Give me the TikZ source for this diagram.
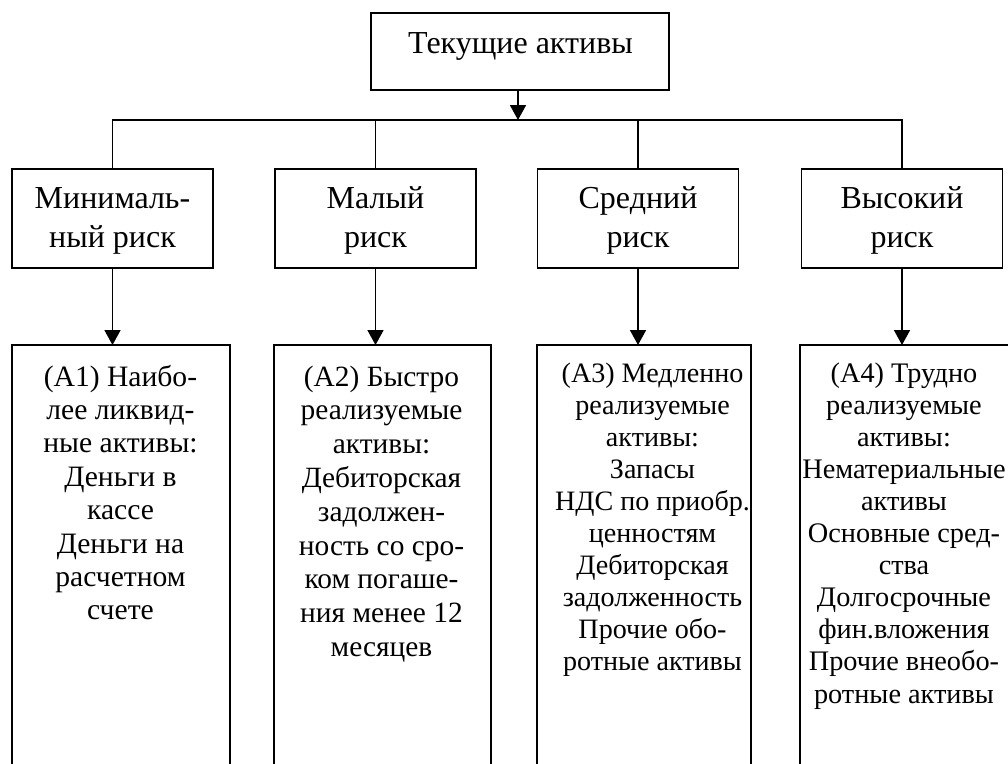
\documentclass[tikz,border=0pt]{standalone}
\usepackage{fontspec}
\setmainfont{Liberation Serif}
\usetikzlibrary{arrows.meta}
\newcommand\cellbox[3]{\parbox[t]{260pt}{\centering\fontsize{#1}{#2}\selectfont #3}}
\begin{document}
\begin{tikzpicture}[x=1pt,y=-1pt,
  frame/.style={draw, line width=1.7pt, inner sep=0pt, outer sep=0pt},
  mid/.style={frame, minimum width=201pt, minimum height=99pt},
  low/.style={frame, minimum height=455pt},
  txt/.style={inner sep=0pt, outer sep=0pt, anchor=base},
  conn/.style={line width=1.7pt},
  arr/.style={line width=1.7pt, -{Triangle[width=16pt,length=15pt]}}]
\useasboundingbox (0,0) rectangle (1008,763);
\clip (0,0) rectangle (1008,763);
% top
\node[frame, minimum width=298pt, minimum height=77pt] (top) at (520,51.5) {};
\node[txt, font=\fontsize{32}{38}\selectfont] (topt) at (520.5,53) {Текущие активы};
% middle boxes
\node[mid] (m1) at (112.5,218.5) {};
\node[mid] (m2) at (375.5,218.5) {};
\node[mid] (m3) at (638,218.5) {};
\node[mid] (m4) at (902,218.5) {};
\node[txt] (m1t) at (112.5,208) {\cellbox{32}{39}{Минималь-\\ный риск}};
\node[txt] (m2t) at (375.5,208) {\cellbox{32}{39}{Малый\\риск}};
\node[txt] (m3t) at (638,208) {\cellbox{32}{39}{Средний\\риск}};
\node[txt] (m4t) at (902,208) {\cellbox{32}{39}{Высокий\\риск}};
% lower boxes
\node[low, minimum width=218pt] (b1) at (121,572.5) {};
\node[low, minimum width=217pt] (b2) at (382.5,572.5) {};
\node[low, minimum width=214pt] (b3) at (644,572.5) {};
\node[low, minimum width=209pt] (b4) at (904.5,572.5) {};
\node[txt] (b1t) at (120.5,386) {\cellbox{29.6}{33.4}{(А1) Наибо-\\лее ликвид-\\ные активы:\\Деньги в\\кассе\\Деньги на\\расчетном\\счете}};
\node[txt] (b2t) at (381.5,386) {\cellbox{29.4}{33.8}{(А2) Быстро\\реализуемые\\активы:\\Дебиторская\\задолжен-\\ность со сро-\\ком погаше-\\ния менее 12\\месяцев}};
\node[txt] (b3t) at (652.5,382) {\cellbox{28.1}{32}{(А3) Медленно\\реализуемые\\активы:\\Запасы\\НДС по приобр.\hspace*{18pt}\\ценностям\hspace*{18pt}\\Дебиторская\\задолженность\\Прочие обо-\\ротные активы}};
\node[txt] (b4t) at (904,382) {\cellbox{28.3}{32.1}{(А4) Трудно\\реализуемые\\активы:\\Нематериальные\\активы\\Основные сред-\\ства\\Долгосрочные\\фин.вложения\\Прочие внеобо-\\ротные активы}};
% connectors
\coordinate (j) at (518,120);
\draw[arr] (top.south -| j) -- (j);
\draw[conn] (m1.north) -- (m1.north |- j) -- (m4.north |- j) -- (m4.north);
\draw[conn] (m2.north) -- (m2.north |- j);
\draw[conn] (m3.north) -- (m3.north |- j);
\draw[arr] (m1.south) -- (m1.south |- b1.north);
\draw[arr] (m2.south) -- (m2.south |- b2.north);
\draw[arr] (m3.south) -- (m3.south |- b3.north);
\draw[arr] (m4.south) -- (m4.south |- b4.north);
\end{tikzpicture}
\end{document}
